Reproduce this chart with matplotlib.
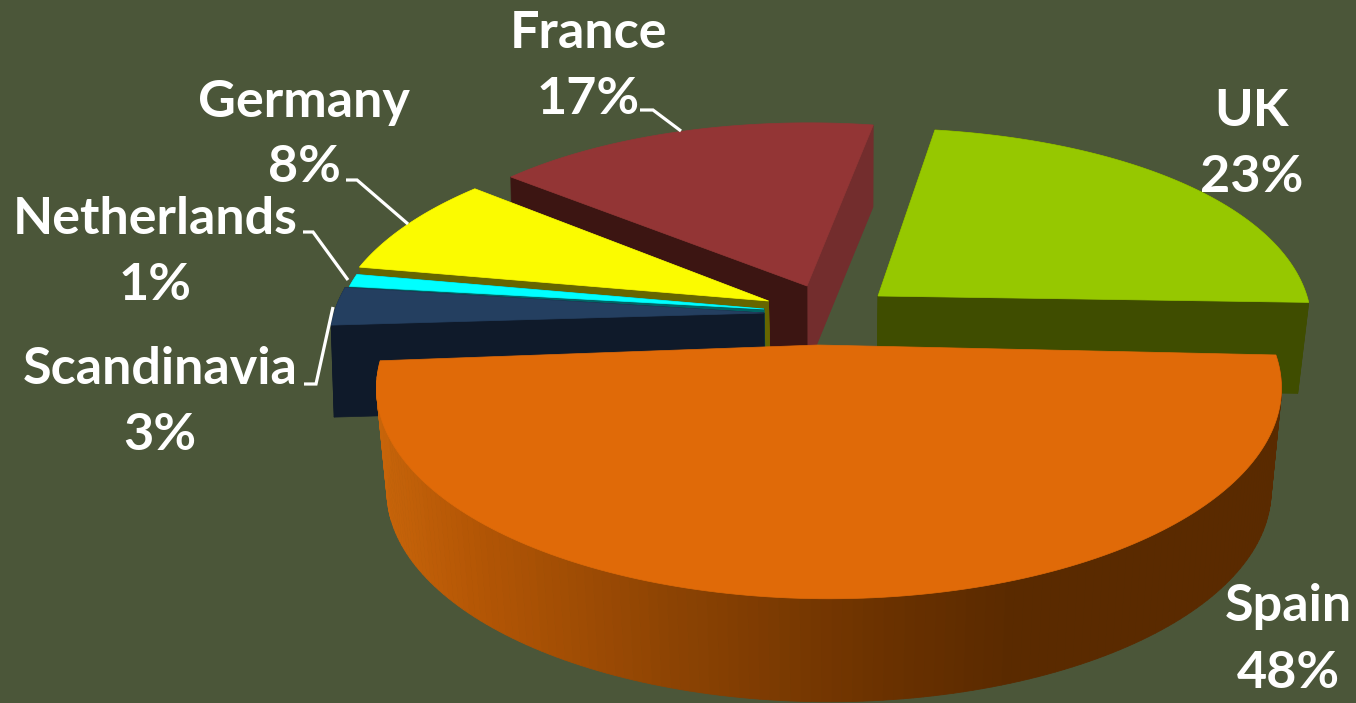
import numpy as np
import matplotlib.pyplot as plt
from matplotlib.colors import LinearSegmentedColormap

# clockwise from the first slice
categories = ['UK', 'Spain', 'Scandinavia', 'Netherlands', 'Germany', 'France']
shares = [23, 48, 3, 1, 8, 17]

top_colors = ['#96c800', '#e06a08', '#243f60', '#00ffff', '#fbfb00', '#933535']
side_colors = ['#3f4d00', '#5a2a00', '#0f1a2a', '#006666', '#666600', '#3c1512']
bg = '#4b5639'

# layout of each slice
cx = [878, 818, 764, 764, 768.5, 807]
cy = [296, 345, 313, 309, 301, 286]
rad = [429, 443, 430, 424, 430, 412.6]
ry = [202, 202, 202, 202, 202, 196]
px = [0.14, 0.204, 0.14, 0.14, 0.14, 0.14]
skew = [-2.5, 0, 0, 0, 26, 34.3]
tilt = [0, 0, 0, 0, 0, 12]
twist = [0, 1, 2, 1.2, 1, -3]
rim_off = [0, 11, 0, 0, 0, 0]
depth = [91, 103, 92, 92, 92, 82]
shrink = [0.977, 0.977, 0.994, 0.97, 0.96, 0.995]

start_angle = 9
py = 0.204
wall_cx = 830

label_pos = {
    'UK': (1252, 111, 178), 'Spain': (1288, 606, 673),
    'Scandinavia': (160, 370, 436), 'Netherlands': (155, 220, 286),
    'Germany': (304, 103, 168), 'France': (588, 33, 99),
}
leaders = {
    'France': ([640, 653, 681], [110, 110, 131]),
    'Germany': ([346, 357, 408], [180, 180, 224]),
    'Netherlands': ([303, 313, 348], [232, 232, 280]),
    'Scandinavia': ([304, 316, 333], [384, 384, 307]),
}

spain_wall = LinearSegmentedColormap.from_list('spain', [
    (0.0, '#c8650a'), (0.11, '#b45605'), (0.33, '#8c4303'),
    (0.55, '#6c3200'), (0.70, '#5a2a00'), (1.0, '#5a2a00')])


def rim(i, deg):
    t = np.radians(deg + twist[i])
    sx = 1 / (1 + px[i] * np.cos(t))
    sy = 1 / (1 + py * np.cos(t))
    x = cx[i] + rim_off[i] + rad[i] * np.sin(t) * sx + skew[i] * np.cos(t) * sy
    y = cy[i] - ry[i] * np.cos(t) * sy + tilt[i] * np.sin(t) * sy
    return x, y


def lower(i, x, y):
    return wall_cx + (x - wall_cx) * shrink[i], y + depth[i]


fig = plt.figure(figsize=(13.56, 7.03), dpi=100, facecolor=bg)
ax = fig.add_axes([0, 0, 1, 1])
ax.set_xlim(0, 1356)
ax.set_ylim(703, 0)
ax.axis('off')

edges = start_angle + np.cumsum([0] + shares) * 3.6

for i in [5, 0, 4, 3, 2, 1]:
    a0, a1 = edges[i], edges[i + 1]
    deg = np.linspace(a0, a1, 160)
    x, y = rim(i, deg)
    xb, yb = lower(i, x, y)
    ax0, ay0 = lower(i, np.array(cx[i], float), np.array(cy[i], float))

    if categories[i] == 'France':
        # right cut face is lighter than the left one
        ax.fill([x[-1], cx[i], ax0, xb[-1]], [y[-1], cy[i], ay0, yb[-1]], color='#732d2d', lw=0.5)
        ax.fill([x[0], cx[i], ax0, xb[0]], [y[0], cy[i], ay0, yb[0]], color=side_colors[i], lw=0.5)
    elif categories[i] == 'Spain':
        for j in range(len(deg) - 1):
            mid = (xb[j] + xb[j + 1]) / 2
            c = spain_wall((mid - 380) / 900)
            ax.fill([x[j], x[j + 1], xb[j + 1], xb[j]], [y[j], y[j + 1], yb[j + 1], yb[j]],
                    color=c, lw=0.6)
    else:
        ax.fill(np.r_[x, xb[::-1]], np.r_[y, yb[::-1]], color=side_colors[i], lw=0.5)
        ax.fill([x[0], cx[i], ax0, xb[0]], [y[0], cy[i], ay0, yb[0]], color=side_colors[i], lw=0.5)
        ax.fill([x[-1], cx[i], ax0, xb[-1]], [y[-1], cy[i], ay0, yb[-1]], color=side_colors[i], lw=0.5)

    ax.fill(np.r_[cx[i], x], np.r_[cy[i], y], color=top_colors[i], lw=0.5)

for name, (lx, ly) in leaders.items():
    ax.plot(lx, ly, color='white', lw=2.3, solid_joinstyle='miter', solid_capstyle='butt')

for name, share in zip(categories, shares):
    tx, y1, y2 = label_pos[name]
    ax.text(tx, y1, name, color='white', family='Lato', weight='bold', fontsize=37.5, ha='center', va='center')
    ax.text(tx, y2, f'{share}%', color='white', family='Lato', weight='bold', fontsize=37.5, ha='center', va='center')

fig.savefig('out.png', dpi=100, facecolor=bg)
